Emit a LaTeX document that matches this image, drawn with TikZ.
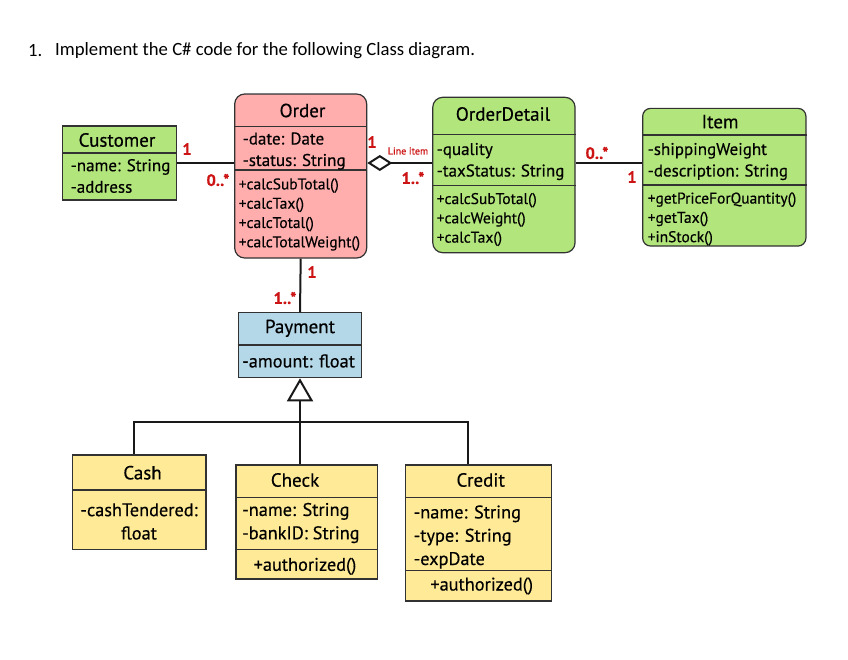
\documentclass[tikz,border=0pt]{standalone}
\usepackage{fontspec}
\setmainfont{PT Sans}[FakeBold=0.4]
\newfontfamily\headfont{Carlito}
\usetikzlibrary{arrows.meta}

\definecolor{ordercol}{RGB}{255,173,173}
\definecolor{greencol}{RGB}{178,229,124}
\definecolor{paycol}{RGB}{180,216,232}
\definecolor{subcol}{RGB}{255,234,152}
\definecolor{multcol}{RGB}{204,20,20}
\definecolor{edgecol}{RGB}{50,50,50}

\tikzset{
  headtext/.style={font=\headfont\fontsize{18.7}{22}\selectfont, anchor=west, inner sep=0pt},
  classbox/.style={draw=edgecol, line width=1.2pt, inner sep=0pt},
  divider/.style={draw=edgecol, line width=1.2pt},
  ctitle/.style={font=\fontsize{19}{22}\selectfont, text=black, inner sep=0pt},
  cattr/.style={font=\fontsize{17}{21.5}\selectfont, align=left, anchor=west, inner sep=0pt, text=black, yshift=-2pt},
  cmeth/.style={font=\fontsize{15.5}{19.3}\selectfont, align=left, anchor=west, inner sep=0pt, text=black, yshift=-2.5pt},
  battr/.style={font=\fontsize{18.3}{23.3}\selectfont, align=left, anchor=west, inner sep=0pt, text=black, yshift=-2pt},
  assoc/.style={draw=black!90, line width=2pt},
  mult/.style={font=\fontsize{16.5}{18}\selectfont\bfseries, text=multcol, inner sep=0pt},
}

\begin{document}
\begin{tikzpicture}[x=1pt, y=-1pt]
      \useasboundingbox (0,0) rectangle (848,659);
      % heading
      \node[headtext] (num) at (28,51) {1.};
      \node[headtext] (task) at (55,51) {Implement the C\# code for the following Class diagram.};

      % class boxes
      \node[classbox, fill=greencol, minimum width=114, minimum height=74] (customer) at (119.7,163) {};
      \node[classbox, fill=ordercol, rounded corners=10, minimum width=132, minimum height=164] (order) at (300.7,176) {};
      \node[classbox, fill=greencol, rounded corners=10, minimum width=142.3, minimum height=155.4] (orderdetail) at (503.9,175) {};
      \node[classbox, fill=greencol, rounded corners=8, minimum width=163.3, minimum height=137.7] (item) at (724.3,177.2) {};
      \node[classbox, fill=paycol, minimum width=123.4, minimum height=65] (payment) at (300,345.2) {};
      \node[classbox, fill=subcol, minimum width=133.3, minimum height=94.3] (cash) at (139.3,502.2) {};
      \node[classbox, fill=subcol, minimum width=141.3, minimum height=114] (check) at (306.7,522) {};
      \node[classbox, fill=subcol, minimum width=146, minimum height=136] (credit) at (478.7,533) {};

      % compartments
      \draw[divider] (customer.west |- 0,153) -- (customer.east |- 0,153);
      \draw[divider] (order.west |- 0,126.7) -- (order.east |- 0,126.7);
      \draw[divider] (order.west |- 0,170) -- (order.east |- 0,170);
      \draw[divider] (orderdetail.west |- 0,134.3) -- (orderdetail.east |- 0,134.3);
      \draw[divider] (orderdetail.west |- 0,185.7) -- (orderdetail.east |- 0,185.7);
      \draw[divider] (item.west |- 0,135) -- (item.east |- 0,135);
      \draw[divider] (item.west |- 0,185) -- (item.east |- 0,185);
      \draw[divider] (payment.west |- 0,345) -- (payment.east |- 0,345);
      \draw[divider] (cash.west |- 0,490) -- (cash.east |- 0,490);
      \draw[divider] (check.west |- 0,497.3) -- (check.east |- 0,497.3);
      \draw[divider] (check.west |- 0,549.3) -- (check.east |- 0,549.3);
      \draw[divider] (credit.west |- 0,497.3) -- (credit.east |- 0,497.3);
      \draw[divider] (credit.west |- 0,570.7) -- (credit.east |- 0,570.7);

      % texts
      \node[ctitle] (customertitle) at (117,140) {Customer};
      \node[cattr] (customerattr) at (70.5,174) {-name: String\\-address};
      \node[ctitle] (ordertitle) at (302.5,110.5) {Order};
      \node[cattr] (orderattr) at (242.5,149) {-date: Date\\-status: String};
      \node[cmeth] (ordermeth) at (238.5,212) {+calcSubTotal()\\+calcTax()\\+calcTotal()\\+calcTotalWeight()};
      \node[ctitle] (detailtitle) at (503,114) {OrderDetail};
      \node[cattr] (detailattr) at (436.5,159.5) {-quality\\-taxStatus: String};
      \node[cmeth] (detailmeth) at (436.5,217) {+calcSubTotal()\\+calcWeight()\\+calcTax()};
      \node[ctitle] (itemtitle) at (720,121.7) {Item};
      \node[cattr] (itemattr) at (647.5,159.5) {-shippingWeight\\-description: String};
      \node[cmeth] (itemmeth) at (647.5,216.5) {+getPriceForQuantity()\\+getTax()\\+inStock()};
      \node[ctitle] (paytitle) at (300,328.3) {Payment};
      \node[battr] (payattr) at (242,359) {-amount: float};
      \node[ctitle] (cashtitle) at (142.5,472.7) {Cash};
      \node[battr, anchor=center, align=center] (cashattr) at (139,519.5) {-cashTendered:\\float};
      \node[ctitle] (checktitle) at (295,480) {Check};
      \node[battr] (checkattr) at (242,521) {-name: String\\-bankID: String};
      \node[battr, anchor=center] (checkmeth) at (305,564.3) {+authorized()};
      \node[ctitle] (credittitle) at (480.7,480) {Credit};
      \node[battr] (creditattr) at (413.5,535) {-name: String\\-type: String\\-expDate};
      \node[battr, anchor=center] (creditmeth) at (481.7,584) {+authorized()};

      % connectors
      \draw[assoc] (customer.east) -- (customer.east -| order.west);
      \draw[assoc, {Diamond[open, length=25pt, width=16pt]}-] (order.east |- customer.east) -- (orderdetail.west |- customer.east);
      \draw[assoc] (orderdetail.east |- customer.east) -- (item.west |- customer.east);
      \draw[assoc] (order.south) -- (payment.north);
      \draw[assoc, {Triangle[open, length=23pt, width=26pt]}-] (payment.south) -- (payment.south |- check.north);
      \coordinate (bar) at (300.7,421.7);
      \draw[assoc] ([xshift=-5pt]cash.north) |- (bar) -| ([xshift=-11pt]credit.north);

      % multiplicities
      \node[mult] (m1) at (187,149) {1};
      \node[mult] (m2) at (218,180) {0..*};
      \node[mult] (m3) at (372,142) {1};
      \node[font=\fontsize{10}{11}\selectfont, text=multcol, inner sep=0pt] (lineitem) at (408,151) {Line item};
      \node[mult] (m4) at (413,178) {1..*};
      \node[mult] (m5) at (597,153) {0..*};
      \node[mult] (m6) at (632,177) {1};
      \node[mult] (m7) at (312,272) {1};
      \node[mult] (m8) at (285,298) {1..*};
\end{tikzpicture}
\end{document}
